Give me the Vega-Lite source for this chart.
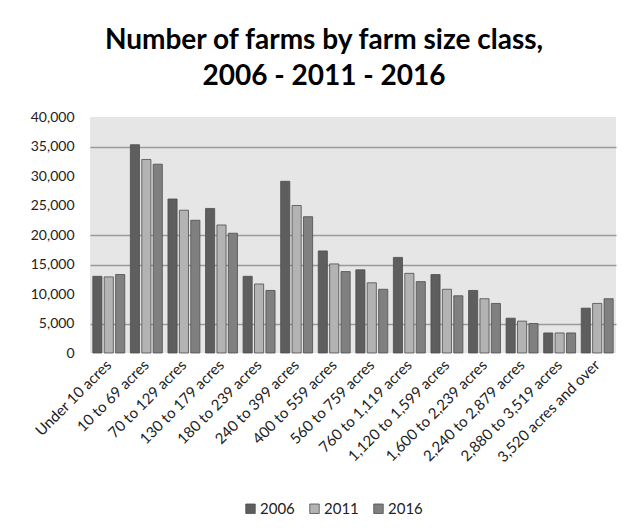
{
  "$schema": "https://vega.github.io/schema/vega-lite/v6.json",
  "autosize": "none",
  "width": 526,
  "height": 236,
  "padding": {"left": 90, "top": 117, "right": 25, "bottom": 178},
  "background": "white",
  "title": {
    "text": ["Number of farms by farm size class,", "2006 - 2011 - 2016"],
    "font": "Lato",
    "fontSize": 28,
    "fontWeight": "bold",
    "color": "#000000",
    "lineHeight": 36,
    "anchor": "middle",
    "dx": -29,
    "offset": 19
  },
  "data": {
    "values": [
      {"size": "Under 10 acres", "year": "2006", "farms": 13000},
      {"size": "Under 10 acres", "year": "2011", "farms": 12900},
      {"size": "Under 10 acres", "year": "2016", "farms": 13300},
      {"size": "10 to 69 acres", "year": "2006", "farms": 35300},
      {"size": "10 to 69 acres", "year": "2011", "farms": 32800},
      {"size": "10 to 69 acres", "year": "2016", "farms": 32000},
      {"size": "70 to 129 acres", "year": "2006", "farms": 26100},
      {"size": "70 to 129 acres", "year": "2011", "farms": 24200},
      {"size": "70 to 129 acres", "year": "2016", "farms": 22500},
      {"size": "130 to 179 acres", "year": "2006", "farms": 24500},
      {"size": "130 to 179 acres", "year": "2011", "farms": 21700},
      {"size": "130 to 179 acres", "year": "2016", "farms": 20300},
      {"size": "180 to 239 acres", "year": "2006", "farms": 13000},
      {"size": "180 to 239 acres", "year": "2011", "farms": 11700},
      {"size": "180 to 239 acres", "year": "2016", "farms": 10600},
      {"size": "240 to 399 acres", "year": "2006", "farms": 29100},
      {"size": "240 to 399 acres", "year": "2011", "farms": 25000},
      {"size": "240 to 399 acres", "year": "2016", "farms": 23100},
      {"size": "400 to 559 acres", "year": "2006", "farms": 17300},
      {"size": "400 to 559 acres", "year": "2011", "farms": 15100},
      {"size": "400 to 559 acres", "year": "2016", "farms": 13800},
      {"size": "560 to 759 acres", "year": "2006", "farms": 14100},
      {"size": "560 to 759 acres", "year": "2011", "farms": 11900},
      {"size": "560 to 759 acres", "year": "2016", "farms": 10800},
      {"size": "760 to 1,119 acres", "year": "2006", "farms": 16200},
      {"size": "760 to 1,119 acres", "year": "2011", "farms": 13500},
      {"size": "760 to 1,119 acres", "year": "2016", "farms": 12100},
      {"size": "1,120 to 1,599 acres", "year": "2006", "farms": 13300},
      {"size": "1,120 to 1,599 acres", "year": "2011", "farms": 10800},
      {"size": "1,120 to 1,599 acres", "year": "2016", "farms": 9700},
      {"size": "1,600 to 2,239 acres", "year": "2006", "farms": 10600},
      {"size": "1,600 to 2,239 acres", "year": "2011", "farms": 9200},
      {"size": "1,600 to 2,239 acres", "year": "2016", "farms": 8400},
      {"size": "2,240 to 2,879 acres", "year": "2006", "farms": 5900},
      {"size": "2,240 to 2,879 acres", "year": "2011", "farms": 5400},
      {"size": "2,240 to 2,879 acres", "year": "2016", "farms": 5000},
      {"size": "2,880 to 3,519 acres", "year": "2006", "farms": 3400},
      {"size": "2,880 to 3,519 acres", "year": "2011", "farms": 3400},
      {"size": "2,880 to 3,519 acres", "year": "2016", "farms": 3400},
      {"size": "3,520 acres and over", "year": "2006", "farms": 7600},
      {"size": "3,520 acres and over", "year": "2011", "farms": 8400},
      {"size": "3,520 acres and over", "year": "2016", "farms": 9200}
    ]
  },
  "mark": {"type": "bar", "stroke": "#4d4d4d", "strokeWidth": 0.8},
  "encoding": {
    "x": {
      "field": "size",
      "type": "nominal",
      "sort": null,
      "scale": {"paddingInner": 0.15, "paddingOuter": 0.075},
      "axis": {
        "title": null,
        "labelAngle": -45,
        "labelAlign": "right",
        "labelBaseline": "middle",
        "labelFont": "Lato",
        "labelFontSize": 15,
        "labelColor": "#222222",
        "labelPadding": 9,
        "ticks": false,
        "domain": false,
        "grid": false
      }
    },
    "xOffset": {
      "field": "year",
      "type": "nominal",
      "scale": {"paddingInner": 0.2, "paddingOuter": 0}
    },
    "y": {
      "field": "farms",
      "type": "quantitative",
      "scale": {"domain": [0, 40000]},
      "axis": {
        "title": null,
        "values": [0, 5000, 10000, 15000, 20000, 25000, 30000, 35000, 40000],
        "format": ",d",
        "labelFont": "Lato",
        "labelFontSize": 14,
        "labelColor": "#222222",
        "labelPadding": 16,
        "ticks": false,
        "domain": false,
        "grid": true,
        "gridColor": "#9a9a9a",
        "gridWidth": 1.5,
        "gridOpacity": {"condition": {"test": "datum.value === 5000 || datum.value === 15000 || datum.value === 20000 || datum.value === 35000", "value": 1}, "value": 0}
      }
    },
    "color": {
      "field": "year",
      "type": "nominal",
      "scale": {"domain": ["2006", "2011", "2016"], "range": ["#5e5e5e", "#b3b3b3", "#808080"]},
      "legend": {
        "title": null,
        "orient": "none",
        "direction": "horizontal",
        "legendX": 153,
        "legendY": 384,
        "symbolType": "square",
        "symbolSize": 90,
        "symbolStrokeColor": "#4d4d4d",
        "symbolStrokeWidth": 0.8,
        "labelFont": "Lato",
        "labelFontSize": 15,
        "labelColor": "#222222",
        "labelOffset": 2,
        "columnPadding": 12
      }
    }
  },
  "config": {
    "view": {"fill": "#e6e6e6", "stroke": null}
  }
}
